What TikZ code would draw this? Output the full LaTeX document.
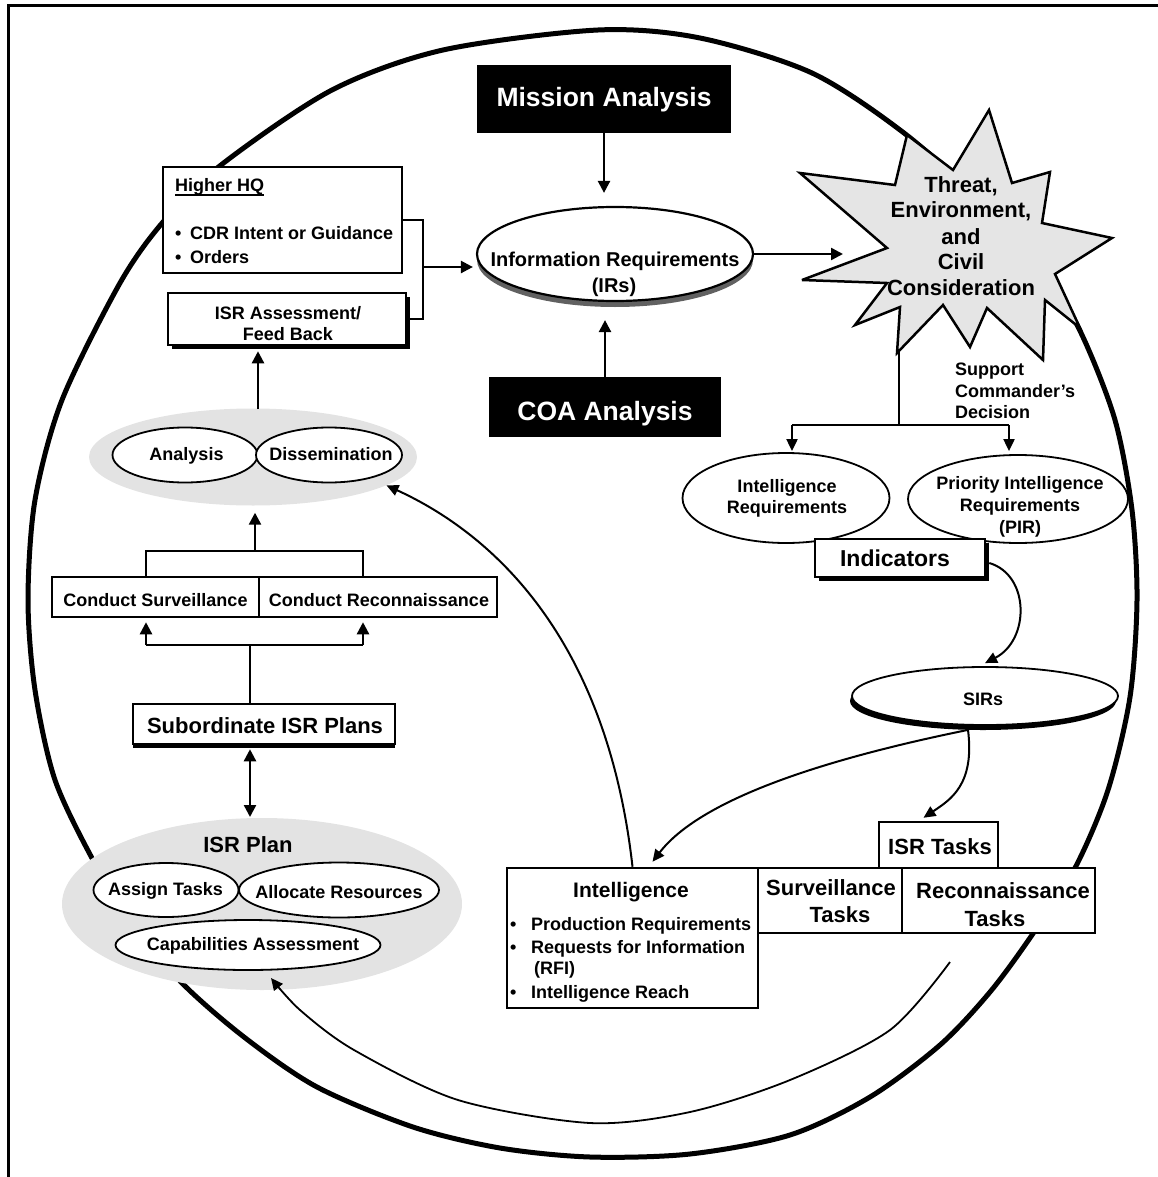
\documentclass[tikz,border=0pt]{standalone}
\usepackage{fontspec}
\setmainfont{Liberation Sans}
\usetikzlibrary{shapes.geometric,arrows.meta,calc,shadows}
\definecolor{paleg}{gray}{0.89}
\definecolor{burst}{gray}{0.9}
\definecolor{shade}{gray}{0.38}
\tikzset{
  txt/.style={inner sep=0pt, anchor=base, font=\fontsize{#1}{#1}\selectfont\bfseries},
  box/.style={draw, line width=2.5, fill=white, inner sep=0pt},
  oval/.style={ellipse, draw, line width=1.8, fill=white, inner sep=0pt},
  halo/.style={ellipse, fill=paleg, inner sep=0pt},
  boxshade/.style={drop shadow={shadow xshift=#1, shadow yshift=-4pt, fill=black, opacity=1}},
  link/.style={line width=2.4},
  thinl/.style={line width=1.8},
  arr/.style={line width=2.4, -{Triangle[length=12pt,width=12pt]}},
  arrs/.style={line width=2, -{Triangle[length=12pt,width=11pt]}},
  dbl/.style={line width=2.4, {Triangle[length=12pt,width=12pt]}-{Triangle[length=12pt,width=12pt]}},
}
\begin{document}
\begin{tikzpicture}[x=1pt,y=-1pt]
\useasboundingbox (0,0) rectangle (1157,1177);

% frame
\draw[line width=3] (8,1180) -- (8,6) -- (1160,6);

% the large cycle
\draw[line width=5, line join=round] plot[smooth cycle] coordinates {
 (598,30) (700,38) (812,73) (904,133) (985,205) (1045,272) (1082,335)
 (1115,420) (1132,510) (1137,600) (1130,697) (1108,790) (1075,868)
 (1032,935) (990,992) (940,1045) (870,1097) (790,1135) (690,1154)
 (590,1157) (500,1148) (413,1127) (317,1087) (244,1037) (181,982)
 (130,920) (93,860) (55,780) (35,690) (28,600) (35,500) (62,400)
 (120,283) (163,222) (221,165) (332,90) (443,50)};

% grey groupings
\node[halo, minimum width=328, minimum height=97] (ad) at (253,457) {};
\node[halo, minimum width=400, minimum height=172] (plan) at (262,904) {};

% inner return arc towards the ISR plan
\coordinate (arcfrom) at (950,962);
\coordinate (arcto) at (271,978);
\draw[arrs, line width=1.8] plot[smooth] coordinates {
 (arcfrom) (890,1030) (790,1080) (690,1112) (590,1123) (458,1100)
 (354,1050) (300,1010) (arcto)};

% ovals
\node[oval, minimum width=145, minimum height=55] (analysis) at (185,455) {};
\node[oval, minimum width=146, minimum height=55] (dissem) at (329,455) {};
\node[oval, minimum width=145, minimum height=54] (assign) at (166,890) {};
\node[oval, minimum width=200, minimum height=55] (alloc) at (339,890) {};
\node[oval, minimum width=265, minimum height=50] (capab) at (248,945) {};
\node[oval, line width=2.2, minimum width=276, minimum height=94,
      drop shadow={shadow xshift=0pt, shadow yshift=-6pt, fill=shade, opacity=1}] (ir) at (615,254) {};
\node[oval, minimum width=207, minimum height=90] (ireq) at (786,498) {};
\node[oval, minimum width=220, minimum height=88] (pir) at (1018,499) {};
\node[oval, minimum width=266, minimum height=58,
      drop shadow={shadow xshift=-2pt, shadow yshift=-5pt, fill=black, opacity=1}] (sirs) at (985,696) {};

% boxes
\node[box, fill=black, minimum width=252, minimum height=66] (mission) at (604,99) {};
\node[box, fill=black, minimum width=230, minimum height=58] (coa) at (605,407) {};
\node[box, minimum width=239, minimum height=106] (hq) at (282.5,220) {};
\node[box, boxshade=4pt, minimum width=238, minimum height=52] (assess) at (287,319) {};
\node[box, minimum width=207, minimum height=40] (csurv) at (155.5,597) {};
\node[box, minimum width=238, minimum height=40] (crec) at (378,597) {};
\node[box, boxshade=0pt, minimum width=262, minimum height=40] (subisr) at (264,724) {};
\node[box, minimum width=251, minimum height=140] (intel) at (632.5,938) {};
\node[box, minimum width=144, minimum height=65] (survt) at (830,900.5) {};
\node[box, minimum width=193, minimum height=65] (recont) at (998.5,900.5) {};
\node[box, minimum width=119, minimum height=46] (isrt) at (938.5,845) {};
\node[box, boxshade=4pt, minimum width=170, minimum height=38] (ind) at (900,558) {};

% starburst
\draw[line width=2.5, fill=burst, line join=miter, miter limit=5]
 (989,110) -- (1012,183) -- (1050,172) -- (1042,223) -- (1112,238) -- (1055,274)
 -- (1080,328) -- (1045,300) -- (1043,360) -- (987,308) -- (970,347) -- (943,305)
 -- (897,353) -- (900,307) -- (855,325) -- (887,283) -- (802,280) -- (887,248)
 -- (800,173) -- (895,185) -- (907,135) -- (953,170) -- cycle;

% texts
\node[txt=26.5, text=white] (missiont) at (604,107) {Mission Analysis};
\node[txt=26.5, text=white] (coat) at (605,420) {COA Analysis};
\node[txt=20] (irt1) at (615,266) {Information Requirements};
\node[txt=20] (irt2) at (614,292) {(IRs)};
\node[txt=18, anchor=base west] (hqt) at (175,192) {Higher HQ};
\draw[line width=1.4] ([yshift=-3pt]hqt.base west) -- ([yshift=-3pt]hqt.base east);
\node[txt=18, anchor=base west] (hqb1) at (175,239.5) {\makebox[15pt][l]{\textbullet}CDR Intent or Guidance};
\node[txt=18, anchor=base west] (hqb2) at (175,263.5) {\makebox[15pt][l]{\textbullet}Orders};
\node[txt=18] (as1) at (288,319.5) {ISR Assessment/};
\node[txt=18] (as2) at (288,340.5) {Feed Back};
\node[txt=18] (ant) at (186.5,460) {Analysis};
\node[txt=18] (dit) at (331,460) {Dissemination};
\node[txt=18] (cst) at (155.5,606) {Conduct Surveillance};
\node[txt=18] (crt) at (379,606) {Conduct Reconnaissance};
\node[txt=22] (subt) at (265,733) {Subordinate ISR Plans};
\node[txt=22] (plant) at (248,852) {ISR Plan};
\node[txt=18] (ast) at (165.5,895) {Assign Tasks};
\node[txt=18] (alt) at (339,898) {Allocate Resources};
\node[txt=18] (cat) at (253,950) {Capabilities Assessment};
\node[txt=21] (intt) at (631,897) {Intelligence};
\node[txt=18, anchor=base west] (ib1) at (510,930) {\makebox[21pt][l]{\textbullet}Production Requirements};
\node[txt=18, anchor=base west] (ib2) at (510,953) {\makebox[21pt][l]{\textbullet}Requests for Information};
\node[txt=18, anchor=base west] (ib3) at (534,974) {(RFI)};
\node[txt=18, anchor=base west] (ib4) at (510,998) {\makebox[21pt][l]{\textbullet}Intelligence Reach};
\node[txt=22] (svt1) at (831,895) {Surveillance};
\node[txt=22] (svt2) at (840,922) {Tasks};
\node[txt=22] (rct1) at (1003,898) {Reconnaissance};
\node[txt=22] (rct2) at (995,926) {Tasks};
\node[txt=22] (isrtt) at (940,854) {ISR Tasks};
\node[txt=18] (irq1) at (787,492) {Intelligence};
\node[txt=18] (irq2) at (787,513) {Requirements};
\node[txt=18] (pir1) at (1020,489) {Priority Intelligence};
\node[txt=18] (pir2) at (1020,511) {Requirements};
\node[txt=18] (pir3) at (1020,533) {(PIR)};
\node[txt=23] (indt) at (895,566) {Indicators};
\node[txt=18] (sirst) at (983,705) {SIRs};
\node[txt=22] (th1) at (961,193) {Threat,};
\node[txt=22] (th2) at (961,218) {Environment,};
\node[txt=22] (th3) at (961,244) {and};
\node[txt=22] (th4) at (961,269) {Civil};
\node[txt=22] (th5) at (961,295) {Consideration};
\node[txt=18, anchor=base west] (sp1) at (955,375) {Support};
\node[txt=18, anchor=base west] (sp2) at (955,397) {Commander’s};
\node[txt=18, anchor=base west] (sp3) at (955,418) {Decision};

% connectors
\draw[arr, shorten >=13pt] (mission.south) -- (mission.south |- ir.north);
\draw[arr, shorten >=18pt] (coa.north) -- (coa.north |- ir.south);
\coordinate (hqjoin) at (423,267);
\draw[link] (hq.east) -- (hq.east -| hqjoin) -- (hqjoin |- assess.east) -- (assess.east);
\draw[arr, shorten >=3pt] (hqjoin) -- (hqjoin -| ir.west);
\coordinate (adtop) at (258,409);
\draw[arr, shorten >=5pt] (adtop) -- (adtop |- assess.south);
\coordinate (cbl) at (146,551);
\coordinate (cbr) at (363,551);
\coordinate (cbm) at (255,551);
\draw[link] (cbl |- csurv.north) -- (cbl) -- (cbr) -- (cbr |- crec.north);
\draw[arr, shorten >=7pt] (cbm) -- (cbm |- ad.south);
\coordinate (sbl) at (146,645);
\coordinate (sbr) at (363,645);
\coordinate (sbm) at (250,645);
\draw[link] (sbl) -- (sbr);
\draw[link] (sbm |- subisr.north) -- (sbm);
\draw[arr, shorten >=4pt] (sbl) -- (sbl |- csurv.south);
\draw[arr, shorten >=4pt] (sbr) -- (sbr |- crec.south);
\coordinate (plantop) at (250,817);
\draw[dbl, shorten <=4pt] (plantop |- subisr.south) -- (plantop);

\coordinate (burstin) at (843,254);
\draw[arr] (ir.east) -- (burstin);
\coordinate (burstfoot) at (899,352);
\coordinate (split) at (899,425);
\coordinate (tol) at (792,425);
\coordinate (tor) at (1009,425);
\draw[thinl] (burstfoot) -- (split);
\draw[thinl] (tol) -- (tor);
\draw[arrs, shorten >=1pt] (tol) -- (tol |- ireq.north);
\draw[arrs, shorten >=3pt] (tor) -- (tor |- pir.north);

\draw[arrs] ($(ind.east)+(3,5)$) .. controls (1030,575) and (1030,640) .. ($(sirs.north)+(0,-3)$);
\coordinate (sirsout) at ($(sirs.south)+(-17,4)$);
\draw[arrs] (sirsout) .. controls (975,785) and (950,800) .. ($(isrt.north)+(-15,-3)$);
\draw[arrs] (sirsout) .. controls (820,760) and (700,800) .. ($(intel.north)+(20,-5)$);
\draw[arrs] (intel.north) .. controls (607,640) and (495,535) .. (ad.-12);
\end{tikzpicture}
\end{document}
